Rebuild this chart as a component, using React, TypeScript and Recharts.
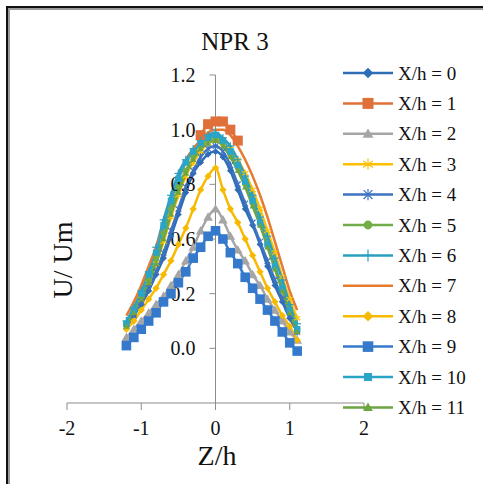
import React from "react";
import { ComposedChart, Line, XAxis, YAxis, ReferenceLine, ReferenceDot } from "recharts";

const FONT = '"Liberation Serif", "Times New Roman", serif';

const zValues = [-1.2, -1.1, -1.0, -0.9, -0.8, -0.7, -0.6, -0.5, -0.4, -0.3, -0.2, -0.1, 0, 0.1, 0.2, 0.3, 0.4, 0.5, 0.6, 0.7, 0.8, 0.9, 1.0, 1.1];

const s0 = [0.28, 0.32, 0.36, 0.41, 0.47, 0.53, 0.61, 0.69, 0.77, 0.84, 0.88, 0.91, 0.92, 0.90, 0.85, 0.78, 0.71, 0.65, 0.58, 0.50, 0.43, 0.37, 0.31, 0.26];
const s1 = [null, null, null, null, null, null, null, null, null, null, 0.98, 1.02, 1.03, 1.03, 1.00, 0.96, null, null, null, null, null, null, null, null];
const s2 = [0.24, 0.27, 0.30, 0.33, 0.36, 0.39, 0.43, 0.47, 0.52, 0.57, 0.63, 0.68, 0.71, 0.67, 0.61, 0.56, 0.52, 0.47, 0.43, 0.38, 0.34, 0.30, 0.26, 0.23];
const s3 = [0.28, 0.33, 0.38, 0.44, 0.51, 0.59, 0.68, 0.76, 0.83, 0.88, 0.92, 0.95, 0.96, 0.95, 0.93, 0.89, 0.84, 0.78, 0.71, 0.63, 0.55, 0.46, 0.38, 0.31];
const s4 = [0.28, 0.32, 0.37, 0.42, 0.48, 0.55, 0.63, 0.71, 0.79, 0.85, 0.90, 0.93, 0.94, 0.92, 0.87, 0.80, 0.73, 0.66, 0.59, 0.52, 0.45, 0.38, 0.32, 0.26];
const s5 = [0.29, 0.34, 0.39, 0.45, 0.53, 0.62, 0.71, 0.79, 0.85, 0.90, 0.94, 0.96, 0.97, 0.95, 0.91, 0.86, 0.80, 0.73, 0.66, 0.58, 0.50, 0.42, 0.34, 0.27];
const s6 = [0.30, 0.35, 0.41, 0.48, 0.57, 0.67, 0.76, 0.84, 0.89, 0.93, 0.96, 0.98, 0.99, 0.97, 0.94, 0.89, 0.83, 0.76, 0.68, 0.61, 0.53, 0.45, 0.36, 0.29];
const s7 = [0.32, 0.37, 0.43, 0.50, 0.57, 0.65, 0.74, 0.82, 0.88, 0.93, 0.96, 0.99, 1.00, 1.00, 0.98, 0.94, 0.89, 0.83, 0.76, 0.68, 0.59, 0.50, 0.41, 0.34];
const s8 = [0.27, 0.30, 0.34, 0.38, 0.42, 0.47, 0.52, 0.58, 0.64, 0.71, 0.78, 0.83, 0.86, 0.78, 0.71, 0.66, 0.60, 0.54, 0.48, 0.42, 0.37, 0.32, 0.28, 0.23];
const s9 = [0.21, 0.24, 0.27, 0.30, 0.33, 0.37, 0.40, 0.44, 0.48, 0.53, 0.57, 0.61, 0.63, 0.60, 0.55, 0.51, 0.46, 0.42, 0.38, 0.34, 0.30, 0.26, 0.22, 0.19];
const s10 = [0.29, 0.34, 0.40, 0.47, 0.55, 0.65, 0.74, 0.82, 0.88, 0.92, 0.95, 0.97, 0.98, 0.96, 0.92, 0.87, 0.81, 0.74, 0.66, 0.58, 0.50, 0.42, 0.34, 0.27];
const s11 = [0.28, 0.33, 0.38, 0.44, 0.51, 0.60, 0.69, 0.77, 0.84, 0.89, 0.93, 0.95, 0.96, 0.94, 0.90, 0.85, 0.79, 0.72, 0.65, 0.57, 0.49, 0.41, 0.33, 0.26];

const seriesValues = [s0, s1, s2, s3, s4, s5, s6, s7, s8, s9, s10, s11];
const seriesNames = ["X/h = 0", "X/h = 1", "X/h = 2", "X/h = 3", "X/h = 4", "X/h = 5", "X/h = 6", "X/h = 7", "X/h = 8", "X/h = 9", "X/h = 10", "X/h = 11"];
const seriesColors = ["#2E6DB5", "#E0703A", "#A5A5A5", "#FFC000", "#3D73C0", "#70AD47", "#2A9FC0", "#E57A30", "#F7BA00", "#3579CC", "#2AA5C8", "#6EA543"];
const seriesMarkers = ["diamond", "square", "triangle", "star", "asterisk", "circle", "plus", "none", "diamond", "square", "square", "triangle"];
const markerSizes = [2.6, 5, 4, 2.6, 2.6, 2.6, 2.6, 0, 2.8, 4.8, 3.2, 2.6];

const xTicks = [-2, -1, 0, 1, 2];
const yTickValues = [1.2, 1.0, 0.8, 0.6, 0.4, 0.2];
const yTickLabels = ["1.2", "1.0", "0.8", "0.6", "0.2", "0.0"];

const data = zValues.map((z, i) => {
  const row: Record<string, number | null> = { z };
  seriesValues.forEach((s, k) => {
    row["s" + k] = s[i];
  });
  return row;
});

function Marker({ shape, cx, cy, s, color }: { shape: string; cx: number; cy: number; s: number; color: string }) {
  if (cx == null || cy == null || isNaN(cx) || isNaN(cy)) return <g />;
  switch (shape) {
    case "diamond":
      return <polygon points={`${cx},${cy - s * 1.3} ${cx + s * 1.3},${cy} ${cx},${cy + s * 1.3} ${cx - s * 1.3},${cy}`} fill={color} />;
    case "square":
      return <rect x={cx - s} y={cy - s} width={2 * s} height={2 * s} fill={color} />;
    case "triangle":
      return <polygon points={`${cx},${cy - s * 1.2} ${cx + s * 1.2},${cy + s * 0.9} ${cx - s * 1.2},${cy + s * 0.9}`} fill={color} />;
    case "circle":
      return <circle cx={cx} cy={cy} r={s * 1.1} fill={color} />;
    case "star":
      return (
        <g stroke={color} strokeWidth={1.2}>
          <line x1={cx} y1={cy - s * 1.4} x2={cx} y2={cy + s * 1.4} />
          <line x1={cx - s * 1.2} y1={cy - s * 0.8} x2={cx + s * 1.2} y2={cy + s * 0.8} />
          <line x1={cx - s * 1.2} y1={cy + s * 0.8} x2={cx + s * 1.2} y2={cy - s * 0.8} />
        </g>
      );
    case "asterisk":
      return (
        <g stroke={color} strokeWidth={1.2}>
          <line x1={cx} y1={cy - s * 1.4} x2={cx} y2={cy + s * 1.4} />
          <line x1={cx - s * 1.1} y1={cy - s * 1.1} x2={cx + s * 1.1} y2={cy + s * 1.1} />
          <line x1={cx - s * 1.1} y1={cy + s * 1.1} x2={cx + s * 1.1} y2={cy - s * 1.1} />
        </g>
      );
    case "plus":
      return (
        <g stroke={color} strokeWidth={1.2}>
          <line x1={cx} y1={cy - s * 1.5} x2={cx} y2={cy + s * 1.5} />
          <line x1={cx - s * 1.5} y1={cy} x2={cx + s * 1.5} y2={cy} />
        </g>
      );
    default:
      return <g />;
  }
}

function YTick(props: any) {
  const { cx, cy, label } = props;
  return (
    <g>
      <line x1={cx - 6} y1={cy} x2={cx} y2={cy} stroke="#8c8c8c" strokeWidth={1} />
      <text x={cx - 20} y={cy} textAnchor="end" dominantBaseline="central" fontFamily={FONT} fontSize={20} fill="#111">
        {label}
      </text>
    </g>
  );
}

export default function App() {
  return (
    <div style={{ position: "absolute", left: 0, top: 0, width: 483, height: 484, overflow: "hidden", background: "#fff" }}>
      <div
        style={{
          position: "absolute",
          left: 6,
          top: 6,
          width: 600,
          height: 600,
          borderLeft: "2px solid #111",
          borderTop: "2px solid #111",
          boxShadow: "inset 2px 2px 0 #9a9a9a",
        }}
      />
      <div style={{ position: "absolute", left: 0, top: 0 }}>
        <ComposedChart width={483} height={484} data={data} margin={{ top: 75, right: 119, bottom: 51, left: 67 }}>
          <XAxis
            type="number"
            dataKey="z"
            domain={[-2, 2]}
            ticks={xTicks}
            allowDataOverflow
            axisLine={{ stroke: "#8c8c8c", strokeWidth: 1 }}
            tickLine={{ stroke: "#8c8c8c", strokeWidth: 1 }}
            tickSize={7}
            tickMargin={11}
            tick={{ fill: "#111", fontSize: 20, fontFamily: FONT }}
          />
          <YAxis type="number" hide domain={[0, 1.2]} allowDataOverflow />
          <ReferenceLine x={0} stroke="#8c8c8c" strokeWidth={1} />
          {yTickValues.map((v, i) => (
            <ReferenceDot
              key={"yt" + i}
              x={0}
              y={v}
              ifOverflow="visible"
              shape={(p: any) => <YTick cx={p.cx} cy={p.cy} label={yTickLabels[i]} />}
            />
          ))}
          {seriesValues.map((_, k) => (
            <Line
              key={"s" + k}
              type="monotone"
              dataKey={"s" + k}
              name={seriesNames[k]}
              stroke={seriesColors[k]}
              strokeWidth={2.5}
              isAnimationActive={false}
              activeDot={false}
              dot={(p: any) => (
                <Marker key={`m${k}-${p.index}`} shape={seriesMarkers[k]} cx={p.cx} cy={p.cy} s={markerSizes[k]} color={seriesColors[k]} />
              )}
            />
          ))}
        </ComposedChart>
      </div>
      <svg width={483} height={484} style={{ position: "absolute", left: 0, top: 0, pointerEvents: "none" }}>
        <text x={235} y={50} textAnchor="middle" fontFamily={FONT} fontSize={25} fill="#111">
          NPR 3
        </text>
        <text x={217} y={465} textAnchor="middle" fontFamily={FONT} fontSize={28} fill="#111">
          Z/h
        </text>
        <text
          x={0}
          y={0}
          transform="translate(72,260) rotate(-90)"
          textAnchor="middle"
          fontFamily={FONT}
          fontSize={28}
          fill="#111"
        >
          U/ Um
        </text>
        {seriesNames.map((name, i) => {
          const y = 73 + i * 30.4;
          return (
            <g key={"lg" + i}>
              <line x1={343} y1={y} x2={393} y2={y} stroke={seriesColors[i]} strokeWidth={2.5} />
              <Marker shape={seriesMarkers[i]} cx={368} cy={y} s={Math.max(markerSizes[i], 3.5) + 0.5} color={seriesColors[i]} />
              <text x={398} y={y} dominantBaseline="central" fontFamily={FONT} fontSize={19} fill="#111">
                {name}
              </text>
            </g>
          );
        })}
      </svg>
    </div>
  );
}
